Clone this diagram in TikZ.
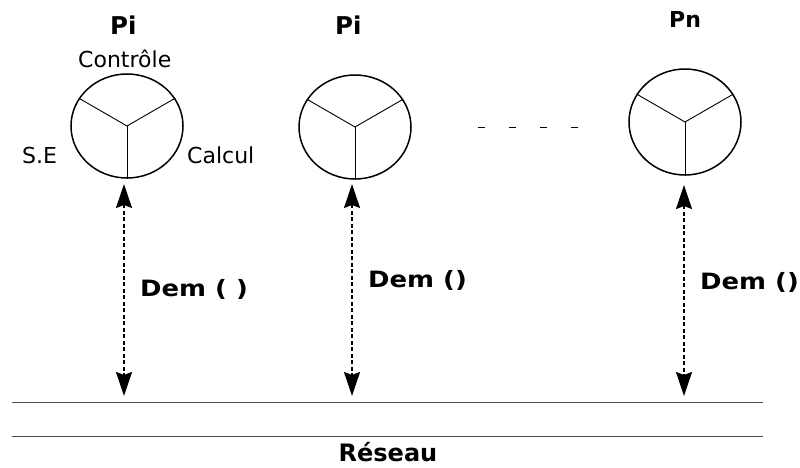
\documentclass[tikz,border=0pt]{standalone}
\usepackage{fontspec}
\setmainfont{DejaVu Sans}
\newfontfamily\demfont{DejaVu Sans Bold}[FakeStretch=1.15]
\usetikzlibrary{arrows.meta,shapes.geometric}
\tikzset{
  proc/.style={ellipse,draw,line width=1.5pt,minimum width=112pt,minimum height=104pt,inner sep=0pt},
  spoke/.style={line width=0.9pt},
  req/.style={line width=1.9pt,dash pattern=on 4pt off 2.5pt,{Stealth[length=24pt,width=16pt,inset=3pt]}-{Stealth[length=24pt,width=16pt,inset=3pt]}},
  bus/.style={line width=1pt,draw=black!70},
  lab/.style={font=\fontsize{22}{26}\selectfont,inner sep=0pt,anchor=base west},
  blab/.style={font=\fontsize{25}{28}\selectfont\bfseries,inner sep=0pt,anchor=base west},
  dlab/.style={font=\demfont\fontsize{22.5}{26}\selectfont,inner sep=0pt,anchor=base west},
}
\begin{document}
\begin{tikzpicture}[x=1pt,y=-1pt]
\useasboundingbox (0,0) rectangle (800,468);
% processors
\node[proc] (p1) at (127,126) {};
\node[proc] (p2) at (355,127) {};
\node[proc,minimum height=106pt] (p3) at (685,122) {};
\foreach \p in {p1,p2,p3}{
  \draw[spoke] (\p.center) -- (\p.150);
  \draw[spoke] (\p.center) -- (\p.30);
  \draw[spoke] (\p.center) -- (\p.south);
}
% titles
\node[blab,font=\fontsize{24.5}{28}\selectfont\bfseries] (t1) at (110,35) {Pi};
\node[blab,font=\fontsize{24.5}{28}\selectfont\bfseries] (t2) at (335,35) {Pi};
\node[blab,font=\fontsize{22}{26}\selectfont\bfseries] (t3) at (669,28) {Pn};
\node[lab] (ctrl) at (78,68) {Contrôle};
\node[lab] (se) at (22,163) {S.E};
\node[lab] (calc) at (187,163) {Calcul};
% dots
\coordinate (dl) at (478,127);
\coordinate (dr) at (580,127);
\draw[line width=0.9pt,dash pattern=on 7pt off 24pt] (dl) -- (dr);
% network lines
\coordinate (l1a) at (12,402);
\coordinate (l1b) at (763,402);
\coordinate (l2a) at (12,436);
\coordinate (l2b) at (763,436);
\draw[bus] (l1a) -- (l1b);
\draw[bus] (l2a) -- (l2b);
\node[blab,anchor=base,text depth=0pt,font=\fontsize{24}{28}\selectfont\bfseries] (net) at (388,461) {Réseau};
% requests
\coordinate (a1t) at (124,184); \coordinate (a1b) at (124,396);
\coordinate (a2t) at (352,184); \coordinate (a2b) at (352,396);
\coordinate (a3t) at (684,185); \coordinate (a3b) at (684,396);
\draw[req] (a1t) -- (a1b);
\draw[req] (a2t) -- (a2b);
\draw[req] (a3t) -- (a3b);
\node[dlab] (d1) at (140,296) {Dem ( )};
\node[dlab] (d2) at (368,287) {Dem ()};
\node[dlab] (d3) at (700,289) {Dem ()};
\end{tikzpicture}
\end{document}
